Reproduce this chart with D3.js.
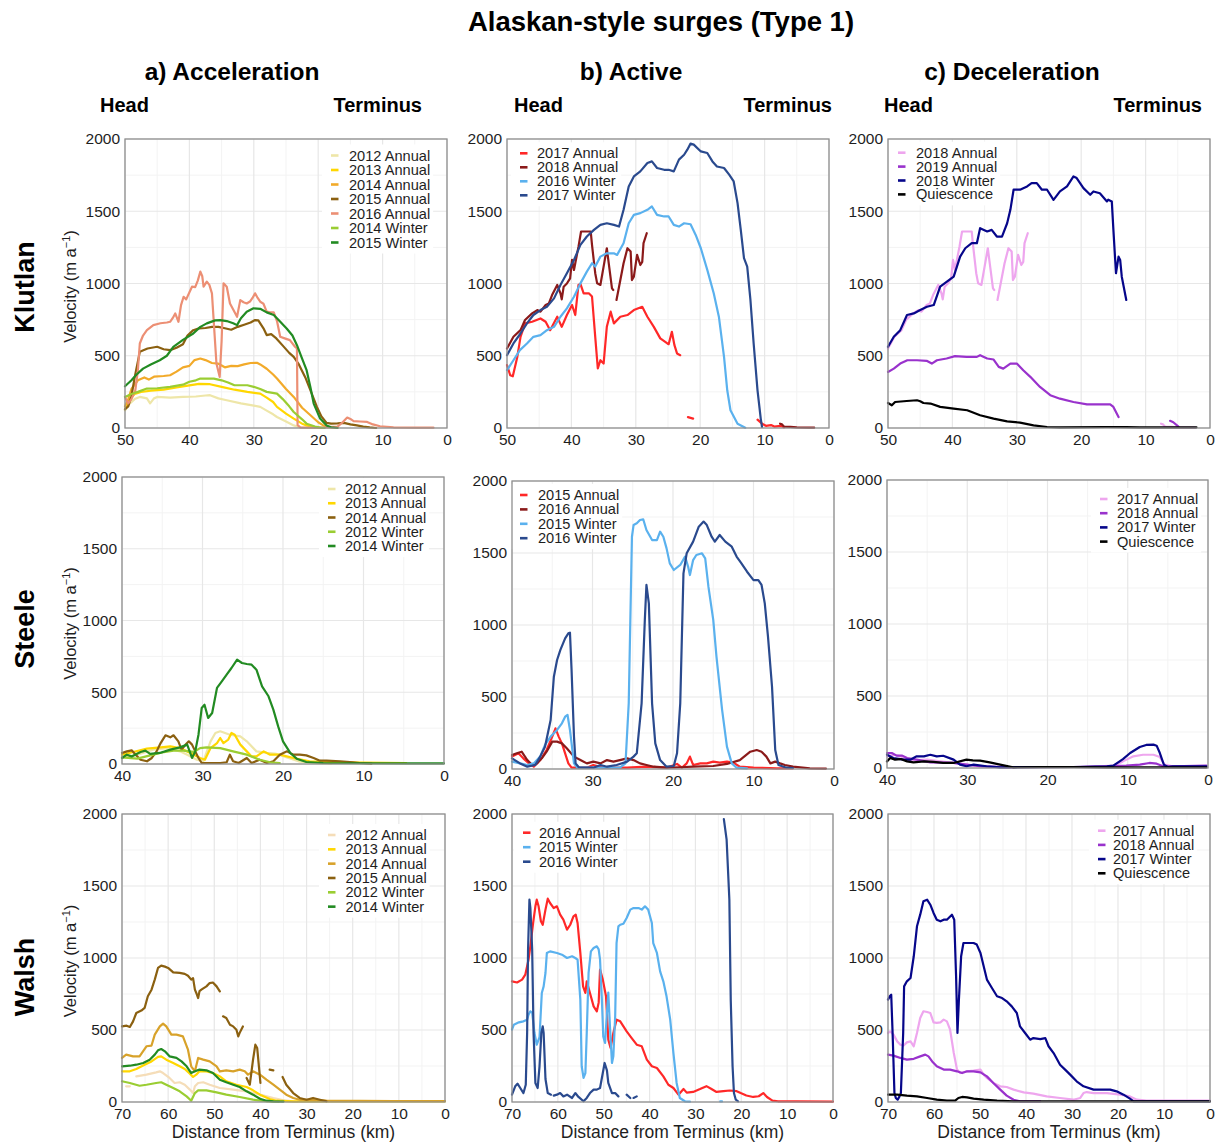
<!DOCTYPE html>
<html>
<head>
<meta charset="utf-8">
<script src="https://cdn.jsdelivr.net/npm/d3@7"></script>
<style>
  body { margin: 0; background: #fff; }
  text { font-family: "Liberation Sans", Arial, Helvetica, sans-serif; }
</style>
</head>
<body>
<svg id="chart" width="1222" height="1145"></svg>
<script>
// ---------- Tick values ----------
const velocityTicks = [0, 500, 1000, 1500, 2000];
const velocityMinor = [250, 750, 1250, 1750];
const kmTicksKlutlan = [50, 40, 30, 20, 10, 0];
const kmTicksSteele = [40, 30, 20, 10, 0];
const kmTicksWalsh = [70, 60, 50, 40, 30, 20, 10, 0];

// ---------- Titles ----------
const mainTitle = "Alaskan-style surges (Type 1)";
const phaseTitles = ["a) Acceleration", "b) Active", "c) Deceleration"];
const glacierNames = ["Klutlan", "Steele", "Walsh"];
const xAxisTitle = "Distance from Terminus (km)";

// ---------- Legend labels ----------
const klutlanAccLabels = ["2012 Annual", "2013 Annual", "2014 Annual", "2015 Annual", "2016 Annual", "2014 Winter", "2015 Winter"];
const klutlanActLabels = ["2017 Annual", "2018 Annual", "2016 Winter", "2017 Winter"];
const klutlanDecLabels = ["2018 Annual", "2019 Annual", "2018 Winter", "Quiescence"];
const steeleAccLabels = ["2012 Annual", "2013 Annual", "2014 Annual", "2012 Winter", "2014 Winter"];
const steeleActLabels = ["2015 Annual", "2016 Annual", "2015 Winter", "2016 Winter"];
const steeleDecLabels = ["2017 Annual", "2018 Annual", "2017 Winter", "Quiescence"];
const walshAccLabels = ["2012 Annual", "2013 Annual", "2014 Annual", "2015 Annual", "2012 Winter", "2014 Winter"];
const walshActLabels = ["2016 Annual", "2015 Winter", "2016 Winter"];
const walshDecLabels = ["2017 Annual", "2018 Annual", "2017 Winter", "Quiescence"];

// ---------- Velocity profiles: [distance from terminus (km), velocity (m/a)], null = data gap ----------
// Klutlan, acceleration
const kAcc2012A = [[50,122],[49.5,160],[48.5,200],[47.7,215],[46.6,205],[46.1,170],[45.5,205],[45,215],[43,210],[41,215],[39,218],[37.5,225],[36.8,227],[35.5,205],[34.2,192],[32,170],[30,155],[29,146],[28,120],[27,95],[26.4,76],[25,45],[23.8,18],[22.8,3],[21,0]];
const kAcc2013A = [[50,130],[49.3,200],[48.5,235],[47.5,250],[46,258],[44,265],[42,280],[40,295],[38.5,305],[36.8,303],[35,285],[33,265],[31,250],[29,238],[28,210],[27,180],[26.4,146],[25,100],[23.8,65],[22.5,30],[21.8,18],[20.5,3],[19.5,0]];
const kAcc2014A = [[50,150],[49.5,200],[49,270],[48,330],[47,350],[46.3,335],[45.5,355],[44,360],[43,365],[42,390],[41,420],[40,430],[39.2,470],[38.3,481],[37.5,470],[36.5,450],[35.5,445],[34.5,420],[33.5,430],[32.5,428],[31.5,440],[30.5,450],[29.5,451],[29,440],[28,410],[27,370],[26.4,342],[25,270],[23.8,215],[22.5,140],[21.2,88],[20,40],[19.2,18],[18.5,5],[17,0]];
const kAcc2015A = [[50,130],[49.5,150],[49,220],[48.5,350],[47.7,527],[46.5,550],[45,562],[44,545],[43,539],[42,555],[41,580],[40.3,640],[39.4,677],[38.5,690],[37.5,692],[36.5,700],[35.5,700],[34.5,690],[33.5,680],[32.5,700],[31.5,715],[30.5,730],[29.8,747],[29.3,745],[28.5,690],[28,643],[27.3,650],[26.5,620],[25.5,570],[24.5,520],[23.8,492],[23,440],[22,350],[21.2,261],[20.2,146],[19.5,80],[18.7,35],[18,30],[17,32],[16,35],[15,25],[14,18],[13,10],[12,4],[11,0]];
const kAcc2016A = [[50,215],[49.5,170],[49,200],[48.4,260],[48,400],[47.7,585],[47.2,640],[46.6,677],[45.6,712],[44.5,725],[43.5,730],[43,735],[42.6,760],[42.2,793],[41.7,735],[41.3,850],[40.9,908],[40.5,890],[39.6,978],[39.1,975],[38.7,1020],[38.3,1082],[38,1050],[37.8,978],[37.3,1013],[36.9,990],[36.5,932],[35.8,446],[35.3,354],[35.0,600],[34.7,1001],[34.2,978],[33.7,862],[33.2,820],[32.6,770],[32.1,885],[31.6,870],[31.1,862],[30.6,875],[30.2,900],[29.8,932],[29.4,900],[29.0,874],[28.5,860],[28.0,805],[27.5,800],[26.9,800],[26.4,740],[25.9,631],[25.2,620],[24.4,608],[23.6,562],[23.3,550],[23.2,20],[22.8,5],[21,2],[19,5],[17,10],[16.2,40],[15.5,72],[14.9,60],[14.5,48],[13.5,45],[12.4,42],[11.5,25],[10.4,12],[8.3,5],[5,3],[2.1,2]];
const kAcc2014W = [[50,215],[49,235],[48,250],[46.6,273],[45,275],[43,285],[41,300],[40,320],[39,330],[38.3,342],[36.2,342],[35,330],[34,315],[33,296],[31,296],[30,285],[29,270],[28,250],[26.4,238],[25.5,200],[24.5,150],[23.8,111],[22.5,60],[21.8,30],[20.5,10],[19.5,2],[19,0]];
const kAcc2015W = [[50,289],[49,330],[48.2,370],[47.2,411],[46,440],[44.6,469],[43.5,500],[42.5,562],[41,610],[39.4,654],[38.3,700],[37.3,724],[36,745],[35.2,747],[34.2,740],[33.2,725],[32.6,712],[32,760],[31.1,805],[30.05,828],[29,825],[28,800],[26.9,782],[26,740],[24.9,689],[24,640],[23.3,573],[22.5,480],[21.8,400],[21.2,280],[20.7,169],[19.7,65],[18.7,18],[18,5],[17,0]];

// Klutlan, active
const kAct2017A = [[50,435],[49.5,365],[49.1,358],[48.4,492],[47.9,631],[47.2,724],[46.1,735],[44.8,758],[44,735],[43.3,677],[42.2,770],[41.5,700],[40.7,782],[39.9,851],[39.4,782],[38.9,990],[38.6,997],[38.1,932],[37.3,932],[36.8,910],[36.3,631],[35.9,412],[35.5,469],[35,446],[34.5,700],[33.9,805],[33.4,724],[32.4,770],[31.3,782],[30.3,816],[29,839],[28.2,770],[27.2,700],[26.2,620],[25.1,585],[24.9,580],[24.4,666],[24,573],[23.6,516],[23.1,504],null,[21.9,75],[21.1,65],null,[11.1,58],[10.4,30],[9.8,15],[9,20],[8.5,10],[7.5,15],[7,5]];
const kAct2018A = [[50,550],[49,631],[47.9,677],[47.2,747],[46.1,793],[45.3,816],[44.8,805],[44,851],[43.5,862],[43,920],[42.2,990],[41.7,932],[41.5,890],[41.2,978],[40.7,1000],[40.2,1036],[39.9,1163],[39.6,1094],[39.4,1140],[38.9,1255],[38.5,1360],[37.8,1360],[37,1360],[36.8,1267],[36.3,1071],[36,1001],[35.5,990],[35,1117],[34.5,1244],[34.2,1140],[33.7,966],[33.5,955],null,[33,886],[32.6,978],[31.9,1140],[31.3,1244],[30.8,1221],[30.6,1024],[30.3,1047],[29.8,1198],[29.3,1128],[29,1150],[28.8,1279],[28.3,1348],null,[7.6,30],[7.3,25],[7,10],[6,8],[5,5],[3,3],[2.3,2]];
const kAct2016W = [[50,400],[49,469],[48,539],[46.9,585],[45.9,631],[44.8,643],[43.8,677],[42.7,700],[41.7,770],[40.7,828],[39.6,908],[38.6,1001],[37.6,1082],[36.8,1140],[36.3,1117],[35.5,1186],[34.5,1209],[33.4,1209],[32.9,1198],[31.9,1279],[31.1,1417],[30.3,1475],[29.3,1487],[28.2,1510],[27.5,1533],[26.7,1475],[25.6,1464],[24.9,1464],[24.1,1406],[23.3,1394],[22.5,1417],[21.5,1410],[20.7,1336],[19.9,1244],[18.9,1094],[17.9,932],[17.1,770],[16.3,492],[15.8,261],[15.3,123],[14.2,30],[13,2]];
const kAct2017W = [[50,504],[49,585],[47.9,654],[46.9,724],[45.9,782],[44.8,816],[43.8,839],[42.7,897],[41.7,990],[40.7,1071],[39.6,1163],[38.6,1267],[37.6,1325],[36.5,1371],[35.5,1406],[34.5,1417],[33.4,1406],[32.6,1394],[31.9,1510],[31.1,1672],[30.3,1741],[29.3,1776],[28.2,1834],[27.5,1845],[26.7,1799],[25.6,1787],[24.9,1787],[24.1,1776],[23.3,1857],[22.5,1891],[22,1926],[21.5,1968],[21,1961],[19.9,1914],[18.9,1903],[18.1,1845],[17.4,1810],[16.3,1799],[15.5,1753],[14.8,1706],[14.2,1556],[13.7,1371],[13.2,1175],[12.7,1117],[12.2,886],[11.7,585],[11.1,261],[10.6,65],[10.4,7]];

// Klutlan, deceleration
const kDec2019A = [[50,388],[49.1,411],[48.1,446],[47,469],[45.5,469],[44,465],[43.2,446],[42.4,469],[40.9,481],[39.6,497],[37.8,492],[36.2,492],[35.7,504],[34.6,481],[33.6,474],[32.8,423],[32.1,411],[31,446],[30,446],[29,400],[27.9,354],[26.4,284],[24.8,227],[23.3,203],[21.2,180],[19.1,164],[17.1,164],[15.5,164],[15,146],[14.2,76],null,[6.2,50],[5.7,40],[4.9,10]];
const kDec2018W = [[50,562],[49.1,631],[48.1,677],[47.05,782],[46,793],[45,816],[43.95,839],[42.9,851],[41.9,978],[40.85,1013],[39.8,1047],[38.8,1186],[38,1244],[37,1279],[36.2,1279],[35.7,1383],[34.6,1360],[33.9,1371],[33.1,1325],[32.3,1325],[31.5,1417],[31,1510],[30.5,1649],[29.5,1649],[28.4,1672],[27.7,1695],[26.9,1695],[26.1,1649],[25.3,1649],[24.3,1579],[23.3,1637],[22.2,1672],[21.2,1741],[20.7,1730],[19.65,1660],[18.6,1614],[18.1,1637],[17.1,1625],[16,1568],[15.8,1580],[15.25,1568],[15,1371],[14.6,1071],[14.2,1186],[13.95,1163],[13.7,1047],[13.0,886]];
const kDecQuies = [[50,173],[49.4,157],[48.9,180],[47.1,187],[45.5,192],[45,185],[44.5,173],[43.4,169],[41.9,146],[39.8,134],[37.7,123],[35.7,88],[33.6,65],[31.5,46],[29.5,37],[27.4,18],[25.3,7],[23.3,5],[16,7],[13,6],[10.9,5],[2.1,5]];

// Steele, acceleration
const sAcc2012A = [[40,42],[38.1,65],[36.1,100],[34.4,111],[32.8,88],[31.9,65],[30.7,30],[29.9,20],[29,158],[28.4,216],[27.8,228],[26.6,204],[25.3,193],[24.5,158],[23.3,88],[22,77],[20.8,70],[19.5,46],[17.9,16],[16.2,7],[14,3]];
const sAcc2013A = [[40,65],[38.6,84],[36.9,107],[35.2,116],[34,123],[32.8,111],[31.5,77],[30.3,42],[29.7,30],[29,111],[28.2,146],[27.8,181],[27.4,146],[26.8,170],[26.4,216],[26,204],[25.3,135],[24.5,88],[23.9,53],[23.3,53],[22.4,88],[21.6,65],[20.4,65],[18.7,42],[16.7,19],[12.5,12],[4.7,7]];
const sAcc2014A = [[40,77],[39.4,88],[38.8,95],[38.3,65],[37.7,30],[36.9,19],[36.3,42],[35.7,88],[35.2,146],[34.6,200],[34,186],[33.6,200],[33,158],[32.6,100],[32.1,135],[31.7,158],[31.3,135],[30.9,88],[30.5,42],[30.1,7],[29.5,7],[27.8,7],[27,12],[26.6,65],[26.2,19],[25.5,7],[24.5,42],[23.9,7],[22.9,30],[22,7],[21.2,19],[20.4,65],[19.5,88],[18.7,65],[17.9,65],[17.1,60],[16.2,42],[15.4,23],[14.6,23],[12.9,19],[11.3,12],[10.5,7],[9,3]];
const sAcc2012W = [[40,46],[38.1,37],[36.5,60],[35,80],[33.6,93],[32.4,93],[31.1,84],[30.3,111],[29.5,116],[27.8,111],[26.2,88],[24.5,65],[22.9,30],[21.6,12],[20.4,7]];
const sAcc2014W = [[40,42],[39.4,65],[38.8,53],[37.7,84],[37.1,93],[36.5,70],[35.3,77],[34,100],[32.8,116],[31.9,135],[31.3,42],[30.9,88],[30.5,204],[30.1,390],[29.75,413],[29.3,321],[28.8,355],[28.2,530],[27.6,576],[27,623],[26.4,669],[25.7,727],[25.1,704],[24.5,697],[23.9,692],[23.3,657],[22.6,541],[21.8,472],[21.2,379],[20.6,262],[20,158],[19.1,77],[18.3,37],[17.1,14],[15,7],[4.3,5],[0,5]];

// Steele, active
const sAct2015A = [[40,86],[39.2,109],[38.6,74],[37.9,39],[37.3,16],[36.5,62],[35.7,132],[35,225],[34.6,282],[34.2,225],[33.8,178],[33.4,109],[33,39],[32.6,9],[30.7,9],[29.9,28],[28.6,9],[25.7,9],[23.3,16],[20.8,9],[19.5,35],[18.9,9],[18.3,39],[17.9,86],[17.5,28],[16.6,39],[15.8,39],[15,51],[14.2,44],[13.3,51],[12.5,44],[11.7,16],[10,9],[7.1,5],[5.1,5]];
const sAct2016A = [[40,97],[39.4,109],[38.8,120],[38.1,62],[37.5,28],[36.9,39],[36.3,74],[35.7,120],[35,190],[34.4,190],[33.8,178],[33.2,144],[32.3,86],[31.5,62],[30.7,39],[29.9,51],[29,39],[28.2,62],[27.4,51],[26.6,62],[25.7,74],[24.9,62],[24.1,39],[23.3,28],[22.4,16],[20.8,9],[19.1,12],[17.5,16],[15,21],[13.3,35],[11.7,62],[10.4,120],[9.6,132],[9,120],[8.4,86],[7.9,39],[7.3,51],[6.7,39],[6.1,28],[5.1,16],[3,5],[1,3]];
const sAct2015W = [[40,51],[39,39],[38.1,28],[37.3,39],[36.5,86],[35.9,167],[35.2,225],[34.4,271],[33.8,317],[33.4,363],[33.1,375],[32.8,271],[32.3,39],[31.9,9],[26.6,9],[25.9,39],[25.5,456],[25.3,1035],[25.1,1613],[24.9,1694],[24.5,1706],[24.1,1729],[23.7,1734],[23.3,1660],[22.6,1590],[22,1590],[21.6,1648],[21.2,1613],[20.8,1532],[20.4,1428],[19.9,1382],[19.1,1417],[18.5,1475],[18.1,1400],[17.9,1347],[17.5,1451],[17.1,1486],[16.4,1498],[16,1463],[15.6,1266],[15,1035],[14.6,780],[13.9,410],[13.3,155],[12.7,39],[12.1,9],[10.8,5]];
const sAct2016W = [[40,74],[39,39],[38.1,16],[37.1,28],[36.5,86],[35.9,155],[35.2,340],[34.8,641],[34.4,757],[34,826],[33.4,907],[33,942],[32.8,947],[32.6,687],[32.3,225],[32.1,39],[31.7,12],[29.9,9],[29,28],[28.2,16],[27,28],[25.7,51],[24.9,86],[24.5,109],[23.9,456],[23.5,1035],[23.3,1278],[23,1150],[22.6,456],[22.2,178],[21.6,62],[20.8,16],[19.9,21],[19.5,109],[19.1,456],[18.7,1359],[18.3,1498],[17.5,1579],[16.8,1683],[16.2,1718],[15.8,1694],[15.2,1613],[14.8,1579],[14.2,1625],[13.5,1579],[12.7,1544],[12.1,1475],[11.5,1428],[10.8,1370],[10,1312],[9.4,1312],[9,1278],[8.6,1150],[8.2,919],[7.7,572],[7.3,132],[6.9,28],[5.9,9],[5.1,7]];

// Steele, deceleration
const sDec2017A = [[40,81],[39.2,92],[38.3,81],[37.5,58],[36.7,53],[35,58],[33.4,46],[31.7,35],[30.1,23],[28.4,12],[25.1,7],[20.9,7],[16.8,7],[13.5,12],[11.8,16],[10.6,46],[9.3,81],[8.1,92],[6.8,92],[6,76],[5.4,23],[4.4,12],[0.2,12]];
const sDec2018A = [[40,104],[39.4,104],[38.8,86],[38.1,86],[37.5,69],[36.3,58],[34.6,39],[31.7,35],[30.1,23],[28.4,12],[25,5],[16,7],[12.6,12],[10.2,16],[8.5,23],[7.3,35],[6.4,30],[5.6,12],[4.4,12],[0.2,16]];
const sDec2017W = [[40,92],[39.2,69],[37.9,58],[37.1,58],[36.3,81],[35.4,81],[34.6,92],[33.8,81],[33,85],[31.7,58],[30.9,23],[30.1,12],[29.2,23],[27.6,12],[25.9,5],[16.8,7],[12.6,12],[11.8,16],[10.6,62],[9.7,104],[8.5,146],[7.7,160],[6.8,162],[6.4,155],[6,104],[5.5,23],[5,7],[4.4,12],[0.2,12]];
const sDecQuies = [[40,46],[39.6,69],[39,58],[38.3,62],[37.5,46],[36.7,39],[35.4,46],[34.2,42],[33,35],[31.7,35],[30.1,58],[29.3,53],[28.4,51],[27.2,39],[25.9,23],[24.3,5],[20.9,7],[16.8,7],[12.6,5],[0.2,5]];

// Walsh, acceleration
const wAcc2012A = [[69.1,109],[68.3,109],null,[66.9,178],[64.7,190],[62.6,206],[61.8,213],[61.1,201],[59.7,167],[58.6,132],[57.5,137],[56.4,120],[55.3,86],[54.6,62],[54.2,109],[53.5,132],[52.4,137],[51,120],[48.8,97],[45.9,86],[43,74],[40.1,51],[37.2,28],[34.4,9],[32,3]];
const wAcc2013A = [[70,213],[68.3,213],[66.9,229],[65.1,259],[63.6,282],[62.2,313],[61.5,317],[60.4,294],[58.9,271],[57.5,248],[56.4,229],[55.3,197],[54.6,174],[53.9,190],[53.2,213],[51.7,213],[50.3,201],[48.8,178],[47.4,144],[45.2,120],[43,104],[41.6,81],[40.1,51],[38,21],[36.5,9],[32.9,5],[0,5]];
const wAcc2014A = [[70,306],[69.1,329],[67.6,317],[66.2,317],[64.7,387],[63.6,392],[62.9,468],[61.8,525],[61.1,544],[60.4,525],[59.3,468],[58.2,468],[56.8,456],[55.7,363],[55,248],[54.2,213],[53.5,306],[52.4,294],[51,282],[49.5,248],[48.8,213],[47.4,220],[45.9,213],[44.5,225],[43.4,213],[42.7,190],[41.6,213],[40.1,190],[38.7,155],[37.2,120],[35.8,86],[34.4,51],[32.9,28],[31.5,16],[25.7,9],[11.2,7],[0,7]];
const wAcc2015A = [[70,525],[69,530],[68.3,521],[67.6,560],[66.9,618],[65.8,635],[65.1,653],[64.4,734],[63.6,780],[62.9,850],[62.2,931],[61.5,947],[60.7,940],[60,931],[58.9,900],[57.5,897],[56.4,890],[55.7,877],[55,850],[54.6,860],[54.2,780],[53.9,757],[53.5,722],[53.2,770],[52.8,780],[51.7,803],[51,826],[50.3,830],[49.5,803],[48.8,768],null,[48.1,595],[47.4,583],[46.6,537],[45.9,525],[45.2,502],[44.8,456],[44.5,480],[43.8,525],null,[43,167],[42.3,120],[41.6,294],[41.1,398],[40.7,375],[40.4,271],[40,132],null,[38,225],[37.2,220],null,[35.2,174],[34.4,120],[32.9,62],[31.5,28],[30,16],[28.6,28],[27.1,16],[25.7,5]];
const wAcc2012W = [[70,144],[68.3,132],[66.2,113],[64.7,120],[62.6,132],[61.5,137],[60.4,120],[58.9,97],[57.5,74],[56,39],[55,9],[54.2,62],[53.5,81],[51.7,81],[49.5,67],[47.4,51],[44.5,35],[41.6,16],[38.7,5],[36,3]];
const wAcc2014W = [[70,248],[68.3,252],[66.9,259],[65.4,271],[64,294],[62.9,329],[62.2,359],[61.5,368],[60.7,352],[59.7,317],[58.2,306],[57.1,282],[56,248],[55,201],[54.2,213],[53.2,225],[51.7,220],[50.3,201],[48.8,155],[47.4,137],[45.9,120],[44.5,104],[43,74],[41.6,51],[40.1,23],[38.7,9],[37.2,5],[35,3]];

// Walsh, active
const wAct2016A = [[70,838],[68.9,830],[67.8,850],[67.1,884],[66.4,988],[66,1081],[65.4,1243],[64.9,1359],[64.6,1405],[64.2,1359],[63.7,1255],[63.3,1231],[62.7,1336],[62.2,1412],[61.7,1382],[60.9,1347],[60.2,1359],[59.5,1301],[58.8,1266],[58,1197],[57.3,1231],[56.6,1289],[56.1,1301],[55.7,1243],[55.1,1035],[54.5,803],[54,757],[53.7,838],[53,757],[52.2,664],[51.5,630],[51.1,690],[50.8,919],[50.2,850],[49.5,734],[49,433],[48.5,375],[47.9,479],[47.2,572],[46.4,560],[45.7,525],[45,491],[43.9,444],[42.8,398],[41.7,387],[40.6,294],[39.5,248],[38.4,236],[37,178],[35.9,120],[34.8,97],[33.7,51],[32.6,90],[31.9,65],[30.5,70],[29,90],[27.6,110],[26.5,90],[25.4,70],[23.9,75],[22.5,80],[21,75],[20,60],[18.9,45],[17.4,35],[16.2,40],[15.2,62],[14.4,35],[13.2,10],[12,5],[8,5],[0,3]];
const wAct2015W = [[70,502],[69.6,537],[68.5,553],[67.5,560],[66.7,572],[66.4,606],[66,630],[65.6,620],[65.1,479],[64.6,398],[64,450],[63.5,757],[63.1,803],[62.7,896],[62.4,1035],[61.7,1046],[60.2,1035],[59.1,1023],[58,1000],[56.9,1012],[56.2,1000],[55.7,988],[55.1,711],[54.8,248],[54.4,167],[54,200],[53.7,479],[53.3,896],[52.8,1046],[52.2,1069],[51.5,1081],[51.1,1060],[50.8,988],[50.4,711],[50.1,456],[49.7,410],[49.3,620],[49,760],[48.6,500],[48.2,271],[47.9,317],[47.5,595],[47.2,1104],[46.8,1220],[46.4,1231],[45.7,1238],[45,1278],[44.2,1336],[43.5,1347],[42.4,1347],[41.7,1336],[41,1359],[40.3,1336],[39.5,1243],[39.2,1104],[38.4,1035],[37.7,907],[37,838],[36.3,734],[35.5,572],[34.8,340],[34.1,132],[33.4,28],[32.3,5],[31.2,3],null,[24.6,4],[24.2,4]];
const wAct2016W = [[70,51],[69.3,109],[68.8,127],[68.2,97],[67.5,62],[67,120],[66.7,479],[66.5,1058],[66.2,1405],[66,1350],[65.6,1058],[65.3,479],[64.9,132],[64.4,97],[64,248],[63.6,479],[63.3,525],[63.1,479],[62.7,160],[62.2,62],[61.5,51],null,[60.9,44],[60.2,51],[59.5,62],[58.8,39],[58,51],[56.9,28],[56.2,62],[55.5,35],[54.4,5],[53.7,28],[53,62],[52.2,86],[51.5,86],[50.8,97],[50.2,201],[49.8,271],[49.3,220],[49,132],[48.2,62],[47.5,62],[46.8,39],null,[45,51],[44.2,28],null,[43.5,28],[42.8,39],null,[23.8,1965],[23.2,1822],[22.6,1405],[22.3,711],[21.9,248],[21.6,62],[21.2,16],[20.7,5]];

// Walsh, deceleration
const wDec2017A = [[70,479],[69.5,490],[68.8,468],[68,421],[67.3,398],[66.6,392],[65.9,414],[65.1,421],[64.4,387],[63.7,479],[63,583],[62.3,630],[61.5,625],[60.8,618],[60.1,553],[59.4,550],[58.6,553],[57.9,572],[57.2,560],[56.5,502],[55.7,340],[55,225],[54.3,201],[52.8,213],[51.4,218],[49.9,225],[49.2,190],[48.5,167],[47.1,132],[45.6,109],[44.2,104],[42.7,86],[40.5,67],[38.4,58],[35.5,39],[32.6,28],[29.7,16],[28.2,28],[27.5,62],[26.8,69],[25.3,62],[22.4,62],[19.5,51],[17.4,39],[15.9,16],[13.8,9],[8,9],[0,9]];
const wDec2018A = [[70,329],[68.8,322],[67.3,306],[65.9,294],[64.4,300],[63,317],[61.9,329],[61.2,317],[60.4,282],[59.4,248],[57.9,225],[56.5,225],[55,213],[53.9,201],[52.8,213],[51.4,213],[49.9,206],[48.5,178],[47.1,132],[45.6,86],[44.2,44],[42.7,16],[41.3,5],[36.9,5]];
const wDec2017W = [[70,711],[69.6,734],[69.3,745],[69,479],[68.6,62],[68.3,28],[67.9,16],[67.5,39],[67.2,62],[66.7,479],[66.5,803],[65.9,838],[65.1,861],[64.4,1012],[63.7,1220],[63,1301],[62.3,1394],[61.5,1405],[60.8,1370],[60.1,1313],[59.4,1266],[58.6,1255],[57.9,1266],[57.2,1266],[56.1,1301],[55.6,1266],[55.2,873],[54.9,479],[54.6,700],[54.1,1012],[53.6,1104],[52.5,1104],[51.4,1104],[50.7,1093],[49.9,1035],[49.2,942],[48.5,850],[47.4,792],[46.3,734],[45.2,722],[44.2,699],[43.1,664],[42,618],[41.3,525],[40.2,479],[39.1,433],[38.4,444],[36.9,437],[35.8,444],[35.1,387],[34,340],[32.6,259],[31.5,225],[30.4,190],[29,144],[27.5,109],[25.3,86],[23.2,86],[21.7,86],[20.3,74],[18.8,51],[17.4,23],[16.6,5],[15.2,5],[0,5]];
const wDecQuies = [[70,51],[68,51],[65.9,44],[63.7,39],[61.5,28],[59.4,16],[57.2,9],[55.4,9],[54.7,28],[53.9,35],[52.8,32],[51.4,23],[49.2,16],[46.3,9],[42.7,5],[0,5]];

// ---------- Panel layout (plot boxes in px: left, top, right, bottom) ----------
const panels = [
  { box: [125, 139, 447, 428], ticks: kmTicksKlutlan, labels: klutlanAccLabels,
    data: [kAcc2012A, kAcc2013A, kAcc2014A, kAcc2015A, kAcc2016A, kAcc2014W, kAcc2015W],
    colors: ["#EEE6A8", "#FFD700", "#F2AA2A", "#8B6010", "#EC8F74", "#9ACD32", "#228B22"],
    legend: { keyX: 331, textX: 349, y0: 155.5, dy: 14.5 } },
  { box: [507, 139, 829, 428], ticks: kmTicksKlutlan, labels: klutlanActLabels,
    data: [kAct2017A, kAct2018A, kAct2016W, kAct2017W],
    colors: ["#FF2828", "#8B1A1A", "#5AB1EE", "#2A4A8E"],
    legend: { keyX: 520, textX: 537, y0: 153.3, dy: 14 } },
  { box: [888, 139, 1210, 428], ticks: kmTicksKlutlan, labels: klutlanDecLabels,
    data: [kAct2018A, kDec2019A, kDec2018W, kDecQuies],
    colors: ["#EEA6EE", "#9932CC", "#06068A", "#000000"],
    legend: { keyX: 898, textX: 916, y0: 152.7, dy: 13.9 } },
  { box: [122, 477, 444, 764], ticks: kmTicksSteele, labels: steeleAccLabels,
    data: [sAcc2012A, sAcc2013A, sAcc2014A, sAcc2012W, sAcc2014W],
    colors: ["#EEE6A8", "#FFD700", "#8B6010", "#9ACD32", "#228B22"],
    legend: { keyX: 328, textX: 345, y0: 489, dy: 14.25 } },
  { box: [512, 481, 834, 769], ticks: kmTicksSteele, labels: steeleActLabels,
    data: [sAct2015A, sAct2016A, sAct2015W, sAct2016W],
    colors: ["#FF2828", "#8B1A1A", "#5AB1EE", "#2A4A8E"],
    legend: { keyX: 520, textX: 538, y0: 495, dy: 14.4 } },
  { box: [887, 480, 1208, 768], ticks: kmTicksSteele, labels: steeleDecLabels,
    data: [sDec2017A, sDec2018A, sDec2017W, sDecQuies],
    colors: ["#EEA6EE", "#9932CC", "#06068A", "#000000"],
    legend: { keyX: 1100, textX: 1117, y0: 499, dy: 14.2 } },
  { box: [122, 814, 445, 1102], ticks: kmTicksWalsh, labels: walshAccLabels,
    data: [wAcc2012A, wAcc2013A, wAcc2014A, wAcc2015A, wAcc2012W, wAcc2014W],
    colors: ["#F5DDB8", "#FFD700", "#D8A22A", "#8B6010", "#9ACD32", "#228B22"],
    legend: { keyX: 328, textX: 345.5, y0: 835, dy: 14.33 } },
  { box: [512, 814, 833, 1102], ticks: kmTicksWalsh, labels: walshActLabels,
    data: [wAct2016A, wAct2015W, wAct2016W],
    colors: ["#FF2828", "#5AB1EE", "#2A4A8E"],
    legend: { keyX: 523, textX: 539, y0: 832.7, dy: 14.5 } },
  { box: [888, 814, 1210, 1102], ticks: kmTicksWalsh, labels: walshDecLabels,
    data: [wDec2017A, wDec2018A, wDec2017W, wDecQuies],
    colors: ["#EEA6EE", "#9932CC", "#06068A", "#000000"],
    legend: { keyX: 1098, textX: 1113, y0: 830.7, dy: 14.2 } }
];

const svg = d3.select("#chart");
const textColor = "#1e1e1e";
const plainNumber = d3.format("d");

panels.forEach((p, i) => {
  const [L, T, R, B] = p.box;
  const xMax = d3.max(p.ticks);
  const x = d3.scaleLinear().domain([xMax, 0]).range([L, R]);
  const y = d3.scaleLinear().domain([0, 2000]).range([B, T]);
  const g = svg.append("g");

  // minor grid
  const xMinor = d3.range(5, xMax, 10);
  g.selectAll(null).data(xMinor).join("line")
    .attr("x1", d => x(d)).attr("x2", d => x(d)).attr("y1", T).attr("y2", B)
    .attr("stroke", "#f3f3f3").attr("stroke-width", 1);
  g.selectAll(null).data(velocityMinor).join("line")
    .attr("x1", L).attr("x2", R).attr("y1", d => y(d)).attr("y2", d => y(d))
    .attr("stroke", "#f3f3f3").attr("stroke-width", 1);
  // major grid
  g.selectAll(null).data(p.ticks).join("line")
    .attr("x1", d => x(d)).attr("x2", d => x(d)).attr("y1", T).attr("y2", B)
    .attr("stroke", "#e7e7e7").attr("stroke-width", 1.2);
  g.selectAll(null).data(velocityTicks).join("line")
    .attr("x1", L).attr("x2", R).attr("y1", d => y(d)).attr("y2", d => y(d))
    .attr("stroke", "#e7e7e7").attr("stroke-width", 1.2);

  // legend backdrop (hides grid behind the key)
  const lg = p.legend;
  const legendBg = g.append("rect").attr("fill", "#fff");

  // profiles
  const line = d3.line().defined(d => d !== null)
    .x(d => x(d[0])).y(d => y(d[1]));
  const lines = g.append("g");
  p.data.forEach((arr, j) => {
    lines.append("path").attr("d", line(arr))
      .attr("fill", "none").attr("stroke", p.colors[j])
      .attr("stroke-width", 2.2).attr("stroke-linejoin", "round").attr("stroke-linecap", "round");
  });

  // panel border
  g.append("rect").attr("x", L).attr("y", T).attr("width", R - L).attr("height", B - T)
    .attr("fill", "none").attr("stroke", "#8f8f8f").attr("stroke-width", 1.3);

  // axes
  const yAxis = g.append("g").attr("transform", `translate(${L},0)`)
    .call(d3.axisLeft(y).tickValues(velocityTicks).tickFormat(plainNumber).tickSize(0).tickPadding(5));
  const xAxis = g.append("g").attr("transform", `translate(0,${B})`)
    .call(d3.axisBottom(x).tickValues(p.ticks).tickFormat(plainNumber).tickSize(0).tickPadding(6));
  [yAxis, xAxis].forEach(a => {
    a.select(".domain").remove();
    a.selectAll("text").attr("fill", textColor)
      .style("font-size", "15.5px").style("font-family", "'Liberation Sans', Arial, sans-serif");
  });

  // legend
  const leg = g.append("g");
  p.labels.forEach((lab, j) => {
    const cy = lg.y0 + j * lg.dy;
    leg.append("line").attr("x1", lg.keyX).attr("x2", lg.keyX + 7.5)
      .attr("y1", cy).attr("y2", cy).attr("stroke", p.colors[j]).attr("stroke-width", 2.6);
    leg.append("text").attr("x", lg.textX).attr("y", cy + 5)
      .attr("fill", textColor).style("font-size", "14.6px").text(lab);
  });
  const bb = leg.node().getBBox();
  legendBg.attr("x", bb.x - 9).attr("y", bb.y - 3)
    .attr("width", bb.width + 12).attr("height", bb.height + 6);

  // y-axis title (left column)
  if (i % 3 === 0) {
    const cy = (T + B) / 2 + 3;
    const t = svg.append("text")
      .attr("transform", `translate(76,${cy}) rotate(-90)`)
      .attr("text-anchor", "middle").attr("fill", textColor)
      .style("font-size", "16.5px");
    t.append("tspan").text("Velocity (m a");
    t.append("tspan").attr("dy", -6).style("font-size", "11px").text("\u22121");
    t.append("tspan").attr("dy", 6).text(")");
  }
  // x-axis title (bottom row)
  if (i >= 6) {
    svg.append("text").attr("x", (L + R) / 2).attr("y", 1138)
      .attr("text-anchor", "middle").attr("fill", textColor)
      .style("font-size", "17.5px").text(xAxisTitle);
  }
});

// ---------- Headings ----------
svg.append("text").attr("x", 661).attr("y", 31).attr("text-anchor", "middle")
  .style("font-size", "27.5px").style("font-weight", "bold").attr("fill", "#000").text(mainTitle);

const phaseX = [232, 631, 1012];
phaseTitles.forEach((t, i) => {
  svg.append("text").attr("x", phaseX[i]).attr("y", 80).attr("text-anchor", "middle")
    .style("font-size", "24.5px").style("font-weight", "bold").attr("fill", "#000").text(t);
});

const headX = [100, 514, 884];
const termX = [422, 832, 1202];
headX.forEach((hx, i) => {
  svg.append("text").attr("x", hx).attr("y", 112)
    .style("font-size", "20px").style("font-weight", "bold").attr("fill", "#000").text("Head");
  svg.append("text").attr("x", termX[i]).attr("y", 112).attr("text-anchor", "end")
    .style("font-size", "20px").style("font-weight", "bold").attr("fill", "#000").text("Terminus");
});

const rowY = [287, 629, 977];
glacierNames.forEach((n, i) => {
  svg.append("text").attr("transform", `translate(34,${rowY[i]}) rotate(-90)`)
    .attr("text-anchor", "middle")
    .style("font-size", "27px").style("font-weight", "bold").attr("fill", "#000").text(n);
});
</script>
</body>
</html>
